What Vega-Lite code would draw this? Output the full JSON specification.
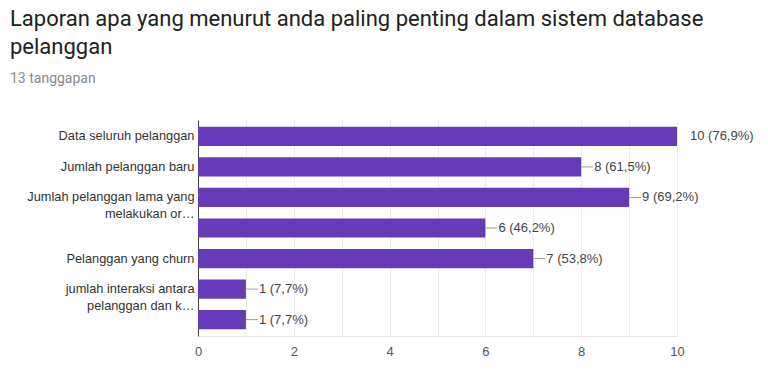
{
  "$schema": "https://vega.github.io/schema/vega-lite/v6.json",
  "autosize": "none",
  "width": 479,
  "height": 216,
  "padding": {"left": 198, "top": 120, "right": 91, "bottom": 34},
  "background": "white",
  "title": {
    "text": ["Laporan apa yang menurut anda paling penting dalam sistem database", "pelanggan"],
    "subtitle": "13 tanggapan",
    "anchor": "start",
    "frame": "group",
    "dx": -188,
    "offset": 33,
    "font": "Roboto",
    "fontSize": 22,
    "fontWeight": "normal",
    "lineHeight": 28,
    "color": "#212121",
    "subtitleFont": "Roboto",
    "subtitleFontSize": 14,
    "subtitleColor": "#8a8a8a",
    "subtitlePadding": 13
  },
  "data": {
    "values": [
      {"opsi": "Data seluruh pelanggan", "jumlah": 10, "teks": "10 (76,9%)"},
      {"opsi": "Jumlah pelanggan baru", "jumlah": 8, "teks": "8 (61,5%)"},
      {"opsi": "Jumlah pelanggan lama yang\nmelakukan or…", "jumlah": 9, "teks": "9 (69,2%)"},
      {"opsi": " ", "jumlah": 6, "teks": "6 (46,2%)"},
      {"opsi": "Pelanggan yang churn", "jumlah": 7, "teks": "7 (53,8%)"},
      {"opsi": "jumlah interaksi antara\npelanggan dan k…", "jumlah": 1, "teks": "1 (7,7%)"},
      {"opsi": "  ", "jumlah": 1, "teks": "1 (7,7%)"}
    ]
  },
  "encoding": {
    "y": {
      "field": "opsi",
      "type": "nominal",
      "sort": null,
      "scale": {"paddingInner": 0.37, "paddingOuter": 0.22},
      "axis": {
        "title": null,
        "ticks": false,
        "domainColor": "#444444",
        "labelFont": "Liberation Sans",
        "labelFontSize": 12.8,
        "labelColor": "#333333",
        "labelPadding": 4,
        "labelLimit": 200,
        "labelLineHeight": 17,
        "labelExpr": "split(datum.label, '\\n')"
      }
    }
  },
  "layer": [
    {
      "mark": {"type": "bar", "color": "#673ab7"},
      "encoding": {
        "x": {
          "field": "jumlah",
          "type": "quantitative",
          "scale": {"domain": [0, 10], "nice": false},
          "axis": {
            "title": null,
            "values": [0, 1, 2, 3, 4, 5, 6, 7, 8, 9, 10],
            "labelExpr": "datum.value % 2 == 0 ? datum.label : ''",
            "labelFlush": false,
            "ticks": false,
            "domainColor": "#e6e6e6",
            "gridColor": "#ededed",
            "labelFont": "Liberation Sans",
            "labelFontSize": 13,
            "labelColor": "#555555",
            "labelPadding": 9
          }
        }
      }
    },
    {
      "transform": [{"filter": "datum.jumlah < 10"}],
      "mark": {"type": "rule", "color": "#9e9e9e", "x2Offset": 12, "strokeWidth": 1},
      "encoding": {
        "x": {"field": "jumlah", "type": "quantitative"},
        "x2": {"field": "jumlah"}
      }
    },
    {
      "mark": {"type": "text", "align": "left", "baseline": "middle", "dx": 13, "font": "Liberation Sans", "fontSize": 13, "color": "#444444"},
      "encoding": {
        "x": {"field": "jumlah", "type": "quantitative"},
        "text": {"field": "teks"}
      }
    }
  ],
  "config": {"view": {"stroke": null}}
}
